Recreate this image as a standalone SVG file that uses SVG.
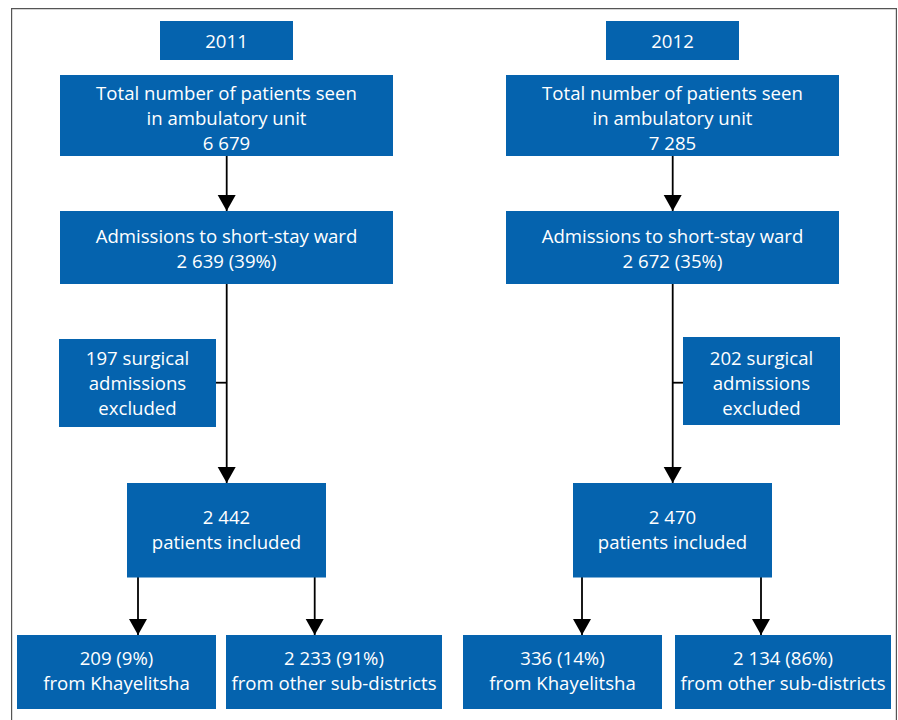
<svg xmlns="http://www.w3.org/2000/svg" width="898" height="720" viewBox="0 0 898 720">
<defs>
<style>
.box{fill:#0563ae;}
.t{font-family:"Open Sans","Liberation Sans",Arial,sans-serif;font-size:18.6px;fill:#fff;text-anchor:middle;}
.c{stroke:#000;stroke-width:1.8;fill:none;}
.frame{stroke:#555;stroke-width:1.2;fill:none;}
</style>
<marker id="ah" markerUnits="userSpaceOnUse" markerWidth="17" markerHeight="19" viewBox="0 0 17 19" refX="16" refY="9" orient="auto">
<path d="M0,0 L16,9 L0,18 z" fill="#000"/>
</marker>
</defs>
<rect width="898" height="720" fill="#fff"/>
<path class="frame" d="M11.6,721 V8.6 H896.4 V721"/>

<g id="connectors">
<line class="c" x1="226.7" y1="156" x2="226.7" y2="211" marker-end="url(#ah)"/>
<line class="c" x1="226.7" y1="284" x2="226.7" y2="483" marker-end="url(#ah)"/>
<line class="c" x1="216" y1="382.7" x2="226.7" y2="382.7"/>
<line class="c" x1="138" y1="577" x2="138" y2="635" marker-end="url(#ah)"/>
<line class="c" x1="314.7" y1="577" x2="314.7" y2="635" marker-end="url(#ah)"/>
<line class="c" x1="672.7" y1="156" x2="672.7" y2="211" marker-end="url(#ah)"/>
<line class="c" x1="672.7" y1="284" x2="672.7" y2="483" marker-end="url(#ah)"/>
<line class="c" x1="672.7" y1="382.7" x2="683" y2="382.7"/>
<line class="c" x1="582" y1="577" x2="582" y2="635" marker-end="url(#ah)"/>
<line class="c" x1="761" y1="577" x2="761" y2="635" marker-end="url(#ah)"/>
</g>

<g id="y2011">
<rect class="box" x="160" y="21" width="133" height="39"/>
<text class="t" x="226.5" y="48">2011</text>
</g>
<g id="total2011">
<rect class="box" x="60" y="75" width="333" height="81"/>
<text class="t" x="226.5" y="100">Total number of patients seen</text>
<text class="t" x="226.5" y="125">in ambulatory unit</text>
<text class="t" x="226.5" y="150">6 679</text>
</g>
<g id="adm2011">
<rect class="box" x="60" y="211" width="333" height="73"/>
<text class="t" x="226.5" y="242.5">Admissions to short-stay ward</text>
<text class="t" x="226.5" y="267.5">2 639 (39%)</text>
</g>
<g id="excl2011">
<rect class="box" x="59" y="339" width="157" height="88"/>
<text class="t" x="137.5" y="365">197 surgical</text>
<text class="t" x="137.5" y="390">admissions</text>
<text class="t" x="137.5" y="415">excluded</text>
</g>
<g id="incl2011">
<rect class="box" x="127" y="483" width="199" height="94.5"/>
<text class="t" x="226.5" y="524">2 442</text>
<text class="t" x="226.5" y="549">patients included</text>
</g>
<g id="khay2011">
<rect class="box" x="17" y="635" width="199" height="74"/>
<text class="t" x="116.5" y="665">209 (9%)</text>
<text class="t" x="116.5" y="690">from Khayelitsha</text>
</g>
<g id="other2011">
<rect class="box" x="226" y="635" width="216" height="74"/>
<text class="t" x="334" y="665">2 233 (91%)</text>
<text class="t" x="334" y="690">from other sub-districts</text>
</g>

<g id="y2012">
<rect class="box" x="606" y="21" width="133" height="39"/>
<text class="t" x="672.5" y="48">2012</text>
</g>
<g id="total2012">
<rect class="box" x="506" y="75" width="333" height="81"/>
<text class="t" x="672.5" y="100">Total number of patients seen</text>
<text class="t" x="672.5" y="125">in ambulatory unit</text>
<text class="t" x="672.5" y="150">7 285</text>
</g>
<g id="adm2012">
<rect class="box" x="506" y="211" width="333" height="73"/>
<text class="t" x="672.5" y="242.5">Admissions to short-stay ward</text>
<text class="t" x="672.5" y="267.5">2 672 (35%)</text>
</g>
<g id="excl2012">
<rect class="box" x="683" y="337" width="157" height="88"/>
<text class="t" x="761.5" y="365">202 surgical</text>
<text class="t" x="761.5" y="390">admissions</text>
<text class="t" x="761.5" y="415">excluded</text>
</g>
<g id="incl2012">
<rect class="box" x="573" y="483" width="199" height="94.5"/>
<text class="t" x="672.5" y="524">2 470</text>
<text class="t" x="672.5" y="549">patients included</text>
</g>
<g id="khay2012">
<rect class="box" x="463" y="635" width="199" height="74"/>
<text class="t" x="562.5" y="665">336 (14%)</text>
<text class="t" x="562.5" y="690">from Khayelitsha</text>
</g>
<g id="other2012">
<rect class="box" x="675" y="635" width="216" height="74"/>
<text class="t" x="783" y="665">2 134 (86%)</text>
<text class="t" x="783" y="690">from other sub-districts</text>
</g>
</svg>
